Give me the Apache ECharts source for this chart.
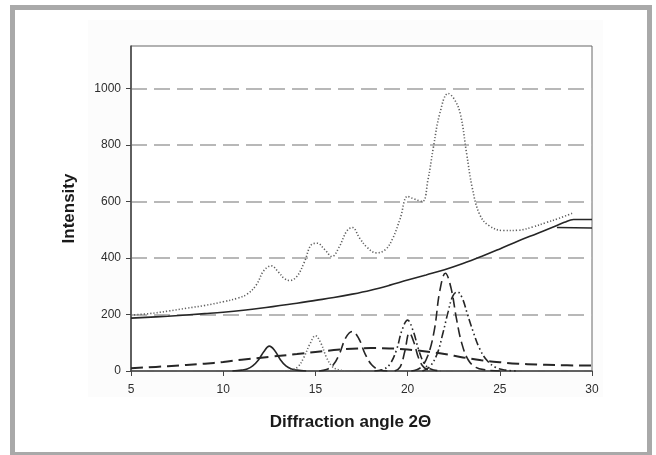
<!DOCTYPE html>
<html>
<head>
<meta charset="utf-8">
<script src="https://cdn.jsdelivr.net/npm/echarts@6/dist/echarts.min.js"></script>
<style>
  html, body { margin: 0; padding: 0; background: #fff; }
  #chart { width: 656px; height: 455px; }
</style>
</head>
<body>
<div id="chart"></div>
<script>
  // tick labels
  const xTicks = [5, 10, 15, 20, 25, 30];
  const yTicks = [0, 200, 400, 600, 800, 1000];

  // measured pattern (dotted)
  const total = [[5,198],[6,203],[7,212],[8,222],[9,232],[10,245],[10.8,258],[11.3,272],[11.8,305],[12.2,355],
    [12.6,372],[13,350],[13.3,328],[13.6,320],[14,335],[14.4,385],[14.8,448],[15.1,452],[15.5,430],[15.9,405],
    [16.3,440],[16.7,495],[17,508],[17.4,470],[17.8,438],[18.3,418],[18.8,430],[19.2,470],[19.6,540],[20,618],
    [20.3,610],[20.8,600],[21.1,675],[21.4,792],[21.75,912],[22.2,982],[22.5,965],[22.85,912],[23.2,770],
    [23.5,650],[23.9,555],[24.4,515],[25.2,497],[26,498],[26.8,510],[27.5,525],[28.2,540],[29,560]];

  // background curve (solid)
  const background = [[5,187],[7,194],[9,203],[10,208],[12,222],[14,240],[15,250],[16,260],[17,272],[18,286],
    [19,303],[20,322],[21,340],[22,358],[23,380],[24,405],[25,432],[26,460],[27,486],[28,512],[28.5,526],
    [29,536],[30,536]];
  const backgroundEnd = [[28.1,508],[30,506]];

  // amorphous hump (long dash)
  const amorphous = [[5,10],[7,17],[9,26],[10,32],[11,40],[12.5,50],[14,60],[15,67],[16,74],[17,79],[18,81],
    [19,80],[20,76],[21,69],[22,60],[23,48],[24,38],[25,31],[26,26],[27,23],[28,21],[30,19]];

  // crystalline peaks
  const peak125 = [[10.5,0],[11,3],[11.3,7],[11.6,18],[11.9,38],[12.2,68],[12.5,88],[12.8,72],[13.1,40],
    [13.4,18],[13.7,7],[14,3],[14.5,0]];
  const peak150 = [[13.3,0],[13.7,4],[14.05,15],[14.35,45],[14.7,95],[15,125],[15.3,98],[15.6,48],[15.9,17],
    [16.2,5],[16.7,0]];
  const peak170 = [[15.2,0],[15.6,5],[15.95,20],[16.3,60],[16.65,118],[17,140],[17.35,115],[17.7,60],[18.05,22],
    [18.4,6],[18.9,0]];
  const peak200 = [[18.2,0],[18.7,6],[19.05,25],[19.4,75],[19.7,145],[20,180],[20.3,142],[20.6,75],[20.9,27],
    [21.25,7],[21.8,0]];
  const peak202 = [[19.3,0],[19.6,15],[19.85,70],[20.1,135],[20.35,100],[20.6,45],[20.9,12],[21.3,0]];
  const peak220 = [[20.2,0],[20.7,12],[21.1,55],[21.45,145],[21.75,285],[22.05,346],[22.35,295],[22.65,185],
    [22.95,95],[23.3,38],[23.7,13],[24.2,4],[25,0]];
  const peak227 = [[20.8,0],[21.2,15],[21.6,60],[21.9,130],[22.2,210],[22.45,265],[22.7,280],[22.95,260],
    [23.25,200],[23.55,140],[23.9,80],[24.3,38],[24.8,12],[25.3,3],[26,0]];

  const ink = '#262626';
  const longDash = [10, 5];
  const dashDot = [8, 3, 1.5, 3, 1.5, 3];

  function line(name, data, color, width, type) {
    return {
      name: name, type: 'line', data: data, smooth: 0.4, symbol: 'none',
      lineStyle: { color: color, width: width, type: type }
    };
  }

  const chart = echarts.init(document.getElementById('chart'));
  chart.setOption({
    animation: false,
    backgroundColor: '#fff',
    graphic: [
      { type: 'rect', z: -1, shape: { x: 88, y: 20, width: 515, height: 377 }, style: { fill: '#fcfcfc' } },
      { type: 'rect', shape: { x: 12.5, y: 7.5, width: 637, height: 447 },
        style: { fill: null, stroke: '#a9a9a9', lineWidth: 5 } }
    ],
    grid: { left: 131, right: 64, top: 46, bottom: 84, show: true, borderColor: '#666', borderWidth: 1, backgroundColor: '#fff' },
    xAxis: {
      type: 'value', min: 5, max: 30, interval: 5,
      name: 'Diffraction angle 2Θ', nameLocation: 'middle', nameGap: 43,
      nameTextStyle: { fontFamily: 'Liberation Sans, Arial', fontSize: 17, fontWeight: 'bold', color: '#1a1a1a', padding: [0, 22, 0, 0] },
      axisLine: { onZero: false, lineStyle: { color: '#444', width: 1.5 } },
      axisTick: { show: true, length: 5, customValues: xTicks, lineStyle: { color: '#444' } },
      axisLabel: { customValues: xTicks, fontFamily: 'Liberation Sans, Arial', fontSize: 12, color: '#2e2e2e', margin: 13 },
      splitLine: { show: false }
    },
    yAxis: {
      type: 'value', min: 0, max: 1150, interval: 200,
      name: 'Intensity', nameLocation: 'middle', nameGap: 53,
      nameTextStyle: { fontFamily: 'Liberation Sans, Arial', fontSize: 17, fontWeight: 'bold', color: '#1a1a1a' },
      axisLine: { show: true, lineStyle: { color: '#444', width: 1.5 } },
      axisTick: { show: true, length: 5, customValues: yTicks, lineStyle: { color: '#444' } },
      axisLabel: { customValues: yTicks, formatter: function (v) { return String(v); },
        fontFamily: 'Liberation Sans, Arial', fontSize: 12, color: '#2e2e2e', margin: 10 },
      splitLine: { show: true, lineStyle: { color: '#b8b8b8', width: 2, type: [16, 7] } }
    },
    series: [
      line('amorphous', amorphous, ink, 2, [12, 6]),
      line('peak 12.5', peak125, ink, 1.6, 'solid'),
      line('peak 15', peak150, '#666', 1.6, [1.2, 2]),
      line('peak 17', peak170, ink, 1.6, longDash),
      line('peak 20', peak200, ink, 1.6, dashDot),
      line('peak 20.2', peak202, ink, 1.6, longDash),
      line('peak 22', peak220, ink, 1.6, longDash),
      line('peak 22.7', peak227, ink, 1.6, dashDot),
      line('background', background, ink, 1.6, 'solid'),
      line('background end', backgroundEnd, ink, 1.6, 'solid'),
      line('total', total, '#5e5e5e', 1.6, [1.2, 2])
    ]
  });
</script>
</body>
</html>
